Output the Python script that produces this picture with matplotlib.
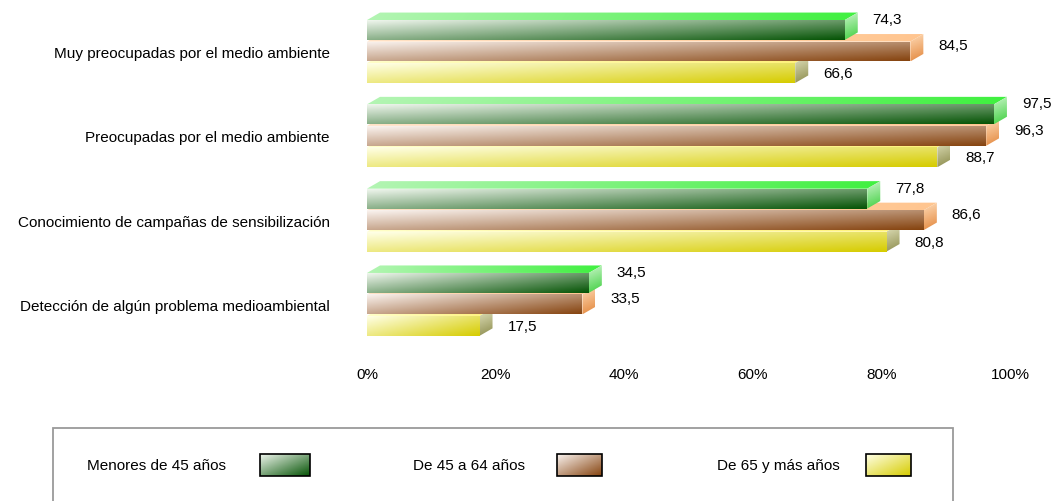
import numpy as np
import matplotlib.pyplot as plt
from matplotlib.patches import Polygon, Rectangle
from matplotlib.colors import to_rgb

plt.rcParams['font.family'] = ['Liberation Sans', 'DejaVu Sans']

categories = ['Muy preocupadas por el medio ambiente',
              'Preocupadas por el medio ambiente',
              'Conocimiento de campañas de sensibilización',
              'Detección de algún problema medioambiental']
groups = ['Menores de 45 años', 'De 45 a 64 años', 'De 65 y más años']
menores_45 = [74.3, 97.5, 77.8, 34.5]
de_45_64 = [84.5, 96.3, 86.6, 33.5]
de_65_mas = [66.6, 88.7, 80.8, 17.5]
xticks = [0, 20, 40, 60, 80, 100]

series = [menores_45, de_45_64, de_65_mas]

# (front light, front dark), (top light, top dark), (side light, side dark)
styles = [
    (('#eef5ec', '#065406'), ('#b4f5b4', '#3ff03f'), ('#c8f5c8', '#3fcf3f')),
    (('#faf3ef', '#864410'), ('#ffe2c6', '#ffc58f'), ('#ffdcb8', '#e3883e')),
    (('#ffffe6', '#d6cc00'), ('#ffffc8', '#fff27a'), ('#e4e4c0', '#8c8c4c')),
]

W, H = 1054, 502
fig = plt.figure(figsize=(W / 100, H / 100), dpi=100)
ax = fig.add_axes([367 / W, 1 - 350 / H, (1010 - 367) / W, 350 / H])


def grad_fill(ax, verts, c0, c1, wx=0.6, wy=0.45, z=2, edge=None):
    verts = np.asarray(verts, dtype=float)
    x0, x1 = verts[:, 0].min(), verts[:, 0].max()
    y0, y1 = verts[:, 1].min(), verts[:, 1].max()
    tx = np.linspace(0, 1, 96)
    ty = np.linspace(0, 1, 24)
    t = (wx * tx[None, :] + wy * ty[:, None]) / (wx + wy)
    a, b = np.array(to_rgb(c0)), np.array(to_rgb(c1))
    img = a + (b - a) * t[..., None]
    poly = Polygon(verts, closed=True, facecolor='none',
                   edgecolor=edge if edge else 'none', lw=1.2, zorder=z + 0.5)
    ax.add_patch(poly)
    im = ax.imshow(img, extent=(x0, x1, y0, y1), origin='lower',
                   aspect='auto', zorder=z, interpolation='bilinear')
    im.set_clip_path(poly)


px_x = 643 / 100.0   # pixels per x unit
px_y = 84.3          # pixels per category
dx = 13 / px_x
dy = 7.5 / px_y
h = 0.118
offsets = [-0.255, 0.0, 0.255]
label_shift = [-11, -6, 0]

for i in range(len(categories)):
    for j in [2, 1, 0]:
        v = series[j][i]
        yc = i + offsets[j]
        yt, yb = yc - h, yc + h
        z = 10 + i * 10 + (2 - j) * 3
        front, top, side = styles[j]
        grad_fill(ax, [(0, yt), (v, yt), (v + dx, yt - dy), (dx, yt - dy)],
                  top[0], top[1], wx=1, wy=0.01, z=z)
        grad_fill(ax, [(v, yt), (v + dx, yt - dy), (v + dx, yb - dy), (v, yb)],
                  side[0], side[1], wx=0.2, wy=1, z=z)
        grad_fill(ax, [(0, yt), (v, yt), (v, yb), (0, yb)],
                  front[0], front[1], z=z + 1)
        ax.text(v + 28 / px_x, yc + label_shift[j] / px_y,
                f'{v:.1f}'.replace('.', ','), fontsize=11,
                ha='left', va='center', zorder=100)

ax.set_xlim(0, 100)
ax.set_ylim((350 - 52.5) / px_y, -52.5 / px_y)
ax.set_xticks(xticks)
ax.set_xticklabels([f'{t}%' for t in xticks])
ax.set_yticks(range(len(categories)))
ax.set_yticklabels(categories)
ax.tick_params(axis='x', length=0, pad=13, labelsize=11)
ax.tick_params(axis='y', length=0, pad=27, labelsize=11)
for s in ax.spines.values():
    s.set_visible(False)
ax.patch.set_visible(False)

# legend box
lax = fig.add_axes([0, 0, 1, 1], zorder=-1)
lax.set_xlim(0, W)
lax.set_ylim(H, 0)
lax.set_axis_off()
lax.add_patch(Rectangle((53, 429), 900, 120, facecolor='white',
                        edgecolor='#9a9a9a', lw=1.3))
text_x = [87, 413, 717]
sw_x = [260, 557, 866]
sw_w = [50, 45, 45]
for k, name in enumerate(groups):
    lax.text(text_x[k], 466, name, fontsize=11, ha='left', va='center')
    x0 = sw_x[k]
    grad_fill(lax, [(x0, 455), (x0 + sw_w[k], 455), (x0 + sw_w[k], 477), (x0, 477)],
              styles[k][0][0], styles[k][0][1], wx=0.6, wy=0.6, z=5, edge='black')

fig.savefig('out.png', dpi=100)
